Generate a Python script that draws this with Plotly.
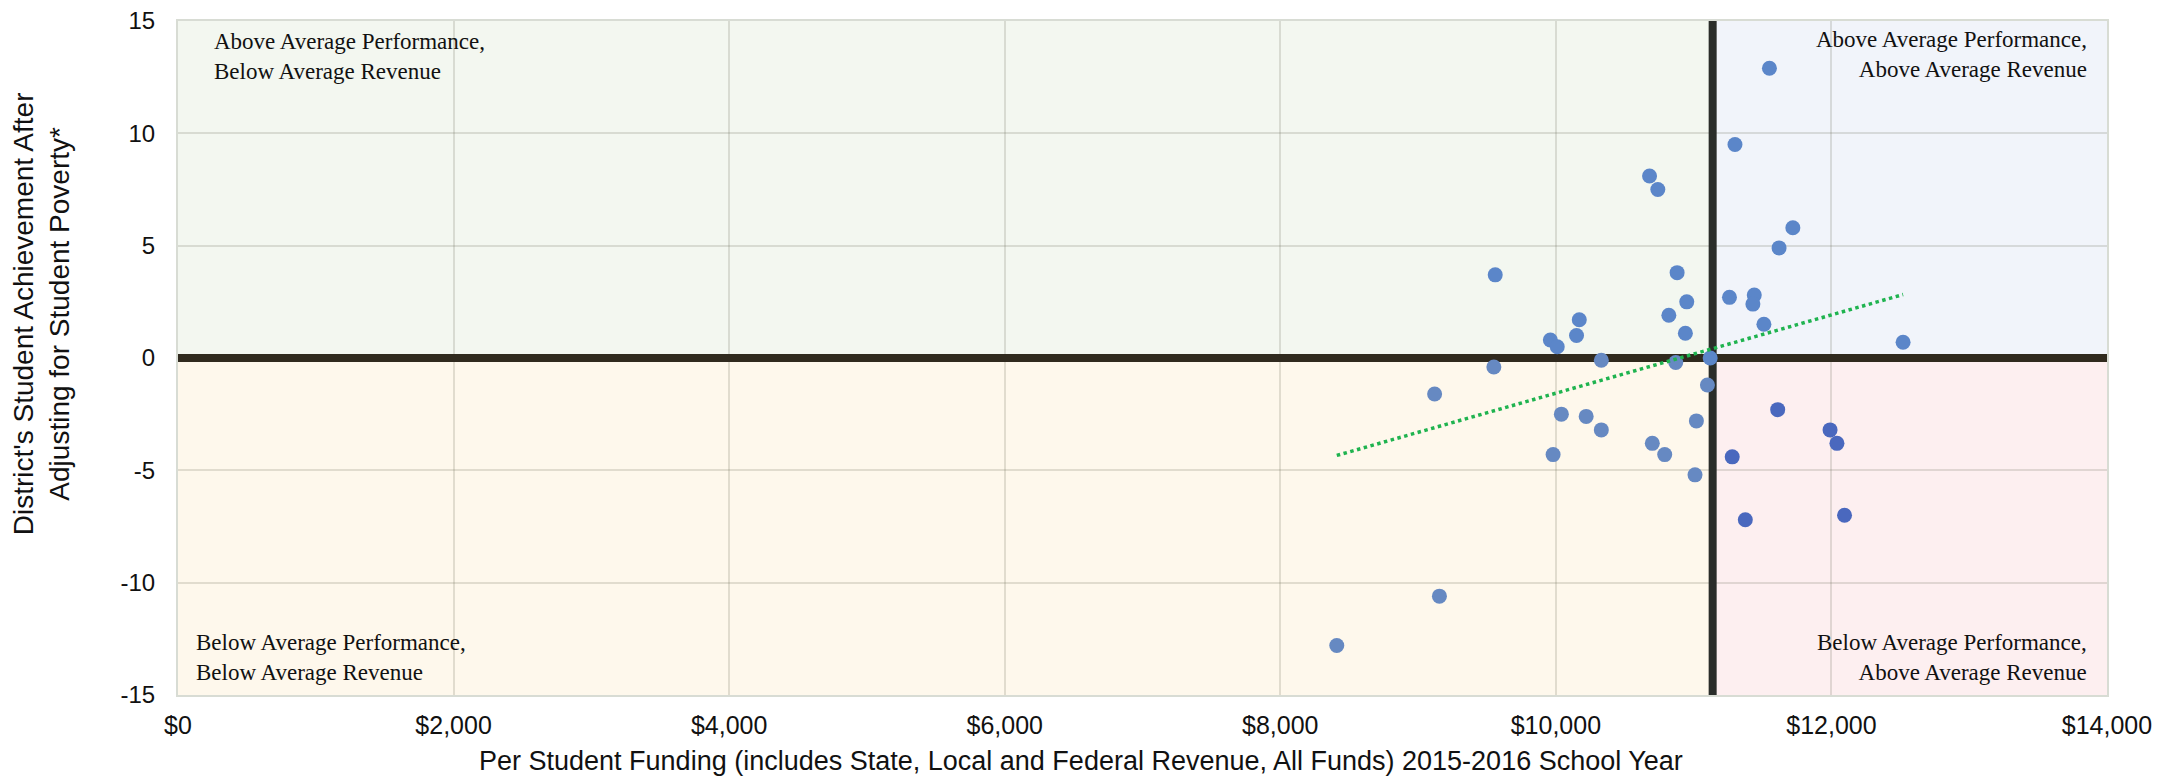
import numpy as np
import plotly.graph_objects as go

# ---- data ----
funding = [11550, 11300, 10680, 10740, 11720, 11620, 9560, 10880, 11260, 11440,
           11430, 10950, 10820, 11510, 10170, 10150, 10940, 9960, 10010, 12520,
           11120, 10330, 10870, 9550, 11100, 9120, 11610, 10040, 10220, 11020,
           10330, 11990, 12040, 10700, 9980, 10790, 11280, 11010, 11375, 12095,
           9155, 8410]
achievement = [12.9, 9.5, 8.1, 7.5, 5.8, 4.9, 3.7, 3.8, 2.7, 2.8,
               2.4, 2.5, 1.9, 1.5, 1.7, 1.0, 1.1, 0.8, 0.5, 0.7,
               0.0, -0.1, -0.2, -0.4, -1.2, -1.6, -2.3, -2.5, -2.6, -2.8,
               -3.2, -3.2, -3.8, -3.8, -4.3, -4.3, -4.4, -5.2, -7.2, -7.0,
               -10.6, -12.8]
avg_funding = 11138
avg_achievement = 0
x_range = [0, 14000]
y_range = [-15, 15]
x_ticks = [0, 2000, 4000, 6000, 8000, 10000, 12000, 14000]
x_ticklabels = ["$0", "$2,000", "$4,000", "$6,000", "$8,000", "$10,000", "$12,000", "$14,000"]
y_ticks = [-15, -10, -5, 0, 5, 10, 15]
y_ticklabels = ["-15", "-10", "-5", "0", "5", "10", "15"]

quad_labels = {
    "tl": "Above Average Performance,<br>Below Average Revenue",
    "tr": "Above Average Performance,<br>Above Average Revenue",
    "bl": "Below Average Performance,<br>Below Average Revenue",
    "br": "Below Average Performance,<br>Above Average Revenue",
}

# ---- styling ----
fill_tl, fill_tr, fill_bl, fill_br = "#F3F7F0", "#F1F4FA", "#FEF8EC", "#FDEFF0"
grid_col = "rgba(110,110,90,0.2)"
axis_font = "Liberation Sans"
serif_font = "Liberation Serif"


def point_color(x, y):
    if x >= avg_funding and y < avg_achievement:
        return "#4A68BE"
    if y < avg_achievement:
        return "#6689C2"
    return "#5B86C9"


colors = [point_color(x, y) for x, y in zip(funding, achievement)]

fig = go.Figure()

# quadrant backgrounds
for (x0, x1, y0, y1, c) in [
    (x_range[0], avg_funding, avg_achievement, y_range[1], fill_tl),
    (avg_funding, x_range[1], avg_achievement, y_range[1], fill_tr),
    (x_range[0], avg_funding, y_range[0], avg_achievement, fill_bl),
    (avg_funding, x_range[1], y_range[0], avg_achievement, fill_br),
]:
    fig.add_shape(type="rect", xref="x", yref="y", x0=x0, x1=x1, y0=y0, y1=y1,
                  fillcolor=c, line_width=0, layer="below")

# average lines
fig.add_shape(type="line", xref="x", yref="y", x0=x_range[0], x1=x_range[1],
              y0=avg_achievement, y1=avg_achievement,
              line=dict(color="#302a1e", width=8), layer="between")
fig.add_shape(type="line", xref="x", yref="y", x0=avg_funding, x1=avg_funding,
              y0=y_range[0], y1=y_range[1],
              line=dict(color="#2a2d2a", width=8), layer="between")

# scatter points
fig.add_trace(go.Scatter(
    x=funding, y=achievement, mode="markers",
    marker=dict(size=15, color=colors, line=dict(width=0)),
    showlegend=False, hoverinfo="x+y"))

# linear trendline
coef = np.polyfit(funding, achievement, 1)
tx = np.array([min(funding), max(funding)])
ty = np.polyval(coef, tx)
fig.add_trace(go.Scatter(
    x=tx, y=ty, mode="lines",
    line=dict(color="#1fb34f", width=3.5, dash="dot"),
    showlegend=False, hoverinfo="skip"))

# quadrant labels
lab_font = dict(family=serif_font, size=23, color="#111111")
fig.add_annotation(xref="paper", yref="paper", x=0, y=1, xanchor="left", yanchor="top",
                   xshift=34, yshift=-6, text=quad_labels["tl"], align="left",
                   showarrow=False, font=lab_font)
fig.add_annotation(xref="paper", yref="paper", x=1, y=1, xanchor="right", yanchor="top",
                   xshift=-18, yshift=-4, text=quad_labels["tr"], align="right",
                   showarrow=False, font=lab_font)
fig.add_annotation(xref="paper", yref="paper", x=0, y=0, xanchor="left", yanchor="bottom",
                   xshift=16, yshift=8, text=quad_labels["bl"], align="left",
                   showarrow=False, font=lab_font)
fig.add_annotation(xref="paper", yref="paper", x=1, y=0, xanchor="right", yanchor="bottom",
                   xshift=-18, yshift=8, text=quad_labels["br"], align="right",
                   showarrow=False, font=lab_font)

# axis titles
title_font = dict(family=axis_font, size=27, color="#111111")
fig.add_annotation(xref="paper", yref="paper", x=0.468, y=0, yanchor="middle",
                   yshift=-66, showarrow=False, font=title_font,
                   text="Per Student Funding (includes State, Local and Federal Revenue, All Funds) 2015-2016 School Year")
fig.add_annotation(xref="paper", yref="paper", x=0, y=0.565, xanchor="center", yanchor="middle",
                   xshift=-137, showarrow=False, font=dict(family=axis_font, size=28, color="#111111"),
                   textangle=-90,
                   text="District's Student Achievement After<br>Adjusting for Student Poverty*")

fig.update_xaxes(range=x_range, tickvals=x_ticks, ticktext=x_ticklabels,
                 showgrid=True, gridcolor=grid_col, gridwidth=2, zeroline=False,
                 showline=True, linecolor="#d8dcd4", linewidth=2, mirror=True,
                 ticks="", ticklabelstandoff=7, ticklabeloverflow="allow", automargin=False,
                 tickfont=dict(family=axis_font, size=25, color="#111111"))
fig.update_yaxes(range=y_range, tickvals=y_ticks, ticktext=y_ticklabels,
                 showgrid=True, gridcolor=grid_col, gridwidth=2, zeroline=False,
                 showline=True, linecolor="#d8dcd4", linewidth=2, mirror=True,
                 ticks="", ticklabelstandoff=16, ticklabeloverflow="allow", automargin=False,
                 tickfont=dict(family=axis_font, size=24, color="#111111"))

fig.update_layout(width=2169, height=781,
                  margin=dict(l=170, r=70, t=13, b=94, autoexpand=False),
                  plot_bgcolor="white", paper_bgcolor="white")

fig.write_html("out.html")
